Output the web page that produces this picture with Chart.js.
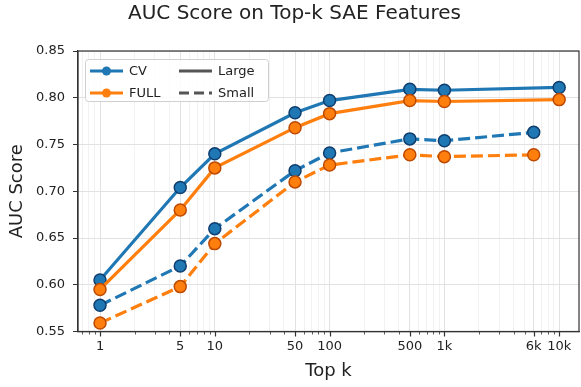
<!DOCTYPE html>
<html>
<head>
<meta charset="utf-8">
<script src="https://cdn.jsdelivr.net/npm/chart.js@4.4.1/dist/chart.umd.min.js"></script>
<style>
  html, body { margin: 0; padding: 0; background: #fff; }
</style>
</head>
<body>
<canvas id="chart" width="581" height="387"></canvas>
<script>
// Data
const largeK = [1, 5, 10, 50, 100, 500, 1000, 10000];
const smallK = [1, 5, 10, 50, 100, 500, 1000, 6000];
const cvLarge = [0.605, 0.704, 0.740, 0.784, 0.797, 0.809, 0.808, 0.811];
const fullLarge = [0.595, 0.680, 0.725, 0.768, 0.783, 0.797, 0.796, 0.798];
const cvSmall = [0.578, 0.620, 0.660, 0.722, 0.741, 0.756, 0.754, 0.763];
const fullSmall = [0.559, 0.598, 0.644, 0.710, 0.728, 0.739, 0.737, 0.739];
const tickValues = [1, 5, 10, 50, 100, 500, 1000, 6000, 10000];
const tickLabels = ['1', '5', '10', '50', '100', '500', '1k', '6k', '10k'];

// Colors
const blue = '#1f77b4';
const blueEdge = '#0f3e6e';
const orange = '#ff7f0e';
const orangeEdge = '#bd4a00';
const font = 'DejaVu Sans';
const xMin = 0.643;
const xMax = 14880;

function toPoints(ks, vals) {
  return ks.map((k, i) => ({ x: k, y: vals[i] }));
}

function series(label, ks, vals, color, edge, dashed) {
  return {
    label: label,
    data: toPoints(ks, vals),
    borderColor: color,
    backgroundColor: color,
    borderWidth: 3.2,
    borderDash: dashed ? [12, 5] : [],
    pointRadius: 6,
    pointHoverRadius: 6,
    pointBackgroundColor: color,
    pointBorderColor: edge,
    pointBorderWidth: 1.5,
    tension: 0
  };
}

// Frame and minor/major x tick marks
const framePlugin = {
  id: 'frame',
  afterDraw(chart) {
    const ctx = chart.ctx;
    const a = chart.chartArea;
    const xs = chart.scales.x;
    ctx.save();
    ctx.strokeStyle = '#333';
    xs.ticks.forEach(t => {
      const px = Math.round(xs.getPixelForValue(t.value)) + 0.5;
      const major = tickValues.includes(t.value);
      ctx.lineWidth = major ? 1.2 : 0.8;
      ctx.beginPath();
      ctx.moveTo(px, a.bottom);
      ctx.lineTo(px, a.bottom + (major ? 5 : 3));
      ctx.stroke();
    });
    ctx.lineWidth = 1.2;
    ctx.strokeRect(a.left, a.top, a.right - a.left, a.bottom - a.top);
    ctx.restore();
  }
};

// Two-column legend drawn inside the plot
const legendPlugin = {
  id: 'legendBox',
  afterDraw(chart) {
    const ctx = chart.ctx;
    const x0 = chart.chartArea.left + 7;
    const y0 = chart.chartArea.top + 8;
    ctx.save();
    ctx.fillStyle = 'rgba(255,255,255,0.85)';
    ctx.strokeStyle = '#d0d0d0';
    ctx.lineWidth = 1;
    ctx.beginPath();
    ctx.roundRect(x0 + 0.5, y0 + 0.5, 183, 42, 3);
    ctx.fill();
    ctx.stroke();

    const rows = [y0 + 12, y0 + 34];
    const items = [
      { col: 0, row: 0, text: 'CV', color: blue, marker: true, dash: [] },
      { col: 0, row: 1, text: 'FULL', color: orange, marker: true, dash: [] },
      { col: 1, row: 0, text: 'Large', color: '#555', marker: false, dash: [] },
      { col: 1, row: 1, text: 'Small', color: '#555', marker: false, dash: [10, 5] }
    ];
    ctx.font = '13px "' + font + '"';
    ctx.textBaseline = 'middle';
    items.forEach(it => {
      const hx = x0 + 5 + it.col * 89;
      const hy = rows[it.row];
      ctx.strokeStyle = it.color;
      ctx.lineWidth = 3;
      ctx.setLineDash(it.dash);
      ctx.beginPath();
      ctx.moveTo(hx, hy);
      ctx.lineTo(hx + 33, hy);
      ctx.stroke();
      ctx.setLineDash([]);
      if (it.marker) {
        ctx.fillStyle = it.color;
        ctx.beginPath();
        ctx.arc(hx + 16.5, hy, 4.5, 0, Math.PI * 2);
        ctx.fill();
      }
      ctx.fillStyle = '#222';
      ctx.fillText(it.text, hx + 39, hy + 1);
    });
    ctx.restore();
  }
};

const ctx = document.getElementById('chart').getContext('2d');
const chart = new Chart(ctx, {
  type: 'line',
  data: {
    datasets: [
      series('FULL Large', largeK, fullLarge, orange, orangeEdge, false),
      series('CV Large', largeK, cvLarge, blue, blueEdge, false),
      series('FULL Small', smallK, fullSmall, orange, orangeEdge, true),
      series('CV Small', smallK, cvSmall, blue, blueEdge, true)
    ]
  },
  options: {
    responsive: false,
    animation: false,
    devicePixelRatio: 1,
    layout: {
      autoPadding: false,
      padding: { left: 10, right: 2, top: 0, bottom: 0 }
    },
    plugins: {
      legend: { display: false },
      tooltip: { enabled: false },
      title: {
        display: true,
        text: 'AUC Score on Top-k SAE Features',
        color: '#222',
        font: { family: font, size: 20, weight: 'normal' },
        padding: { top: 2, bottom: 25 }
      }
    },
    scales: {
      x: {
        type: 'logarithmic',
        bounds: 'data',
        min: xMin,
        max: xMax,
        afterBuildTicks(scale) {
          // minor ticks at 1..9 of every decade, labels only on tickValues
          const ticks = [];
          for (let d = 0.1; d <= 10000; d *= 10) {
            for (let m = 1; m <= 9; m++) {
              const v = Math.round(m * d * 1000) / 1000;
              if (v >= xMin && v <= xMax) ticks.push({ value: v });
            }
          }
          scale.ticks = ticks;
          scale.min = xMin;
          scale.max = xMax;
        },
        afterFit(scale) {
          scale.height = 55.5;
          scale.paddingLeft = 0;
          scale.paddingRight = 0;
        },
        ticks: {
          autoSkip: false,
          maxRotation: 0,
          minRotation: 0,
          padding: 7,
          color: '#222',
          font: { family: font, size: 13 },
          callback(value) {
            const i = tickValues.indexOf(value);
            return i >= 0 ? tickLabels[i] : '';
          }
        },
        grid: {
          drawTicks: false,
          color(c) {
            return c.tick && tickValues.includes(c.tick.value) ? '#e2e2e2' : '#f2f2f2';
          }
        },
        border: { color: '#333', width: 1.2 },
        title: {
          display: true,
          text: 'Top k',
          color: '#222',
          font: { family: font, size: 18 },
          padding: { top: 0, bottom: 5 }
        }
      },
      y: {
        type: 'linear',
        min: 0.55,
        max: 0.85,
        afterFit(scale) {
          scale.width = 68;
          scale.paddingTop = 0;
          scale.paddingBottom = 0;
        },
        ticks: {
          stepSize: 0.05,
          padding: 8,
          color: '#222',
          font: { family: font, size: 13 },
          callback(value) { return value.toFixed(2); }
        },
        grid: {
          color: '#e2e2e2',
          tickLength: 5,
          tickColor: '#333'
        },
        border: { color: '#333', width: 1.2 },
        title: {
          display: true,
          text: 'AUC Score',
          color: '#222',
          font: { family: font, size: 18 },
          padding: { top: -3, bottom: 0 }
        }
      }
    }
  },
  plugins: [framePlugin, legendPlugin]
});
</script>
</body>
</html>
